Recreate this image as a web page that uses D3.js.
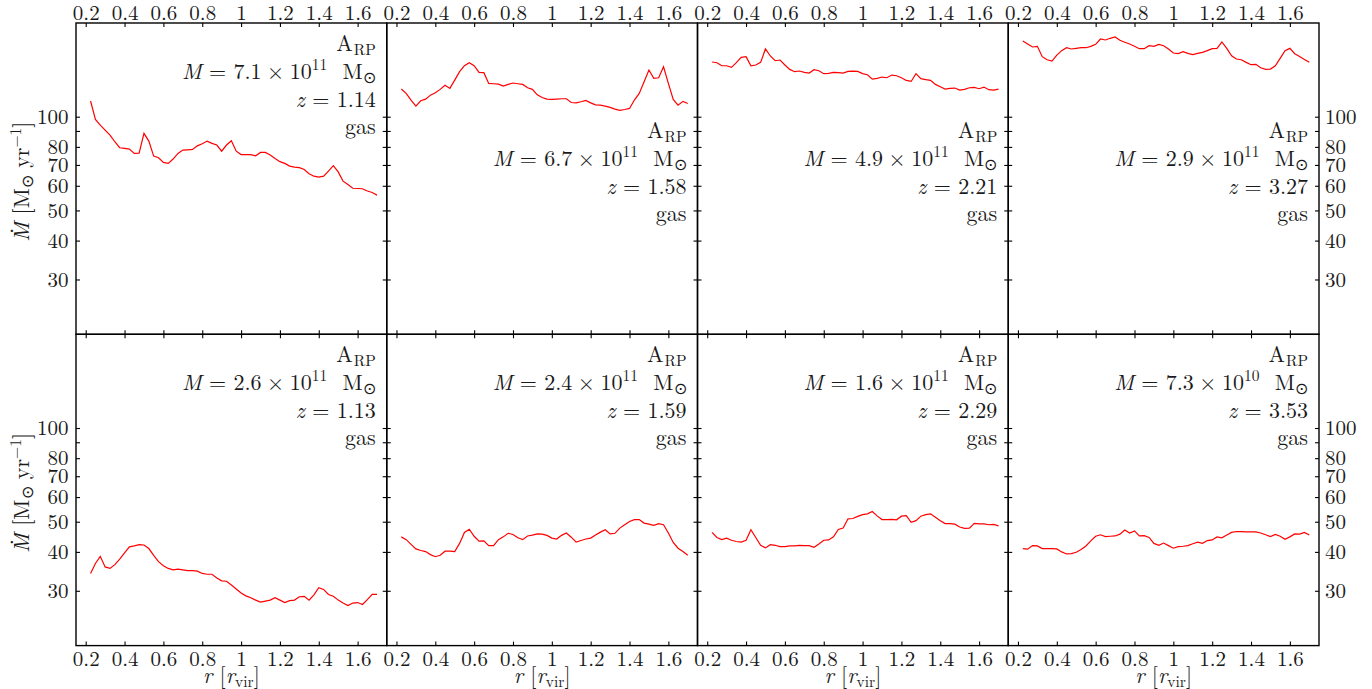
<!DOCTYPE html>
<html>
<head>
<meta charset="utf-8">
<script src="https://cdn.jsdelivr.net/npm/d3@7"></script>
<style>
  html, body { margin: 0; padding: 0; background: #fff; }
  svg { display: block; }
  text { font-family: "Latin Modern Roman", "CMU Serif", "Liberation Serif", serif; fill: #1a1a1a; }
</style>
</head>
<body>
<svg id="chart" width="1372" height="689"></svg>
<script>
// ---------------- data ----------------
const radius = [0.225,0.25,0.275,0.3,0.325,0.35,0.375,0.4,0.425,0.45,0.475,0.5,0.525,0.55,0.575,0.6,0.625,0.65,0.675,0.7,
  0.725,0.75,0.775,0.8,0.825,0.85,0.875,0.9,0.925,0.95,0.975,1.0,1.025,1.05,1.075,1.1,1.125,1.15,1.175,1.2,
  1.225,1.25,1.275,1.3,1.325,1.35,1.375,1.4,1.425,1.45,1.475,1.5,1.525,1.55,1.575,1.6,1.625,1.65,1.675,1.7];

const mdot1 = [112.3,98.0,94.0,90.6,87.3,83.1,79.5,79.1,78.7,76.2,76.4,88.4,83.5,74.7,73.8,71.3,70.8,73.1,76.2,78.1,
  78.3,78.5,80.6,81.9,83.5,82.1,81.1,77.5,81.1,83.7,77.5,75.6,75.6,75.5,74.9,76.8,76.8,75.3,73.4,71.7,
  70.8,69.4,68.9,68.6,67.7,65.6,64.4,64.0,64.4,66.9,69.6,66.5,62.1,60.6,58.9,58.8,58.7,57.7,57.1,56.0];
const mdot2 = [122.7,118.8,113.1,108.2,112.5,113.9,117.3,119.4,122.4,126.1,123.3,131.1,139.5,145.8,149.1,145.8,138.8,138.5,127.9,127.6,
  127.3,125.4,127.0,128.3,127.6,127.0,123.9,122.4,117.6,115.3,113.9,113.6,113.9,114.2,114.2,111.1,110.8,111.7,112.8,110.8,
  109.2,108.9,108.2,107.1,105.8,104.8,105.5,106.3,113.1,118.8,129.5,141.2,132.8,133.4,144.7,127.9,113.6,108.9,112.0,110.3];
const mdot3 = [149.9,149.1,145.8,145.8,144.0,149.1,155.1,155.9,145.8,146.6,149.5,165.1,156.7,151.3,152.1,146.6,141.9,139.5,140.2,138.8,
  138.1,141.6,140.5,137.5,137.8,138.8,138.5,138.1,139.8,140.2,139.8,137.5,136.4,132.1,132.8,134.1,133.4,136.1,135.4,133.4,
  130.8,129.8,137.5,132.5,131.6,130.8,127.0,124.8,122.7,123.3,123.6,121.8,122.4,123.9,124.2,123.0,124.5,122.1,121.8,122.7];
const mdot4 = [175.1,171.2,167.5,168.3,155.9,152.4,150.9,157.8,163.0,166.6,165.0,165.8,166.6,166.6,168.3,170.8,177.7,176.4,178.6,180.3,
  176.0,173.4,171.2,168.3,165.4,165.4,169.1,168.3,170.8,169.1,165.0,160.2,159.4,161.8,159.8,158.2,159.8,161.0,163.0,165.4,
  165.8,173.8,165.8,157.0,153.2,152.4,149.5,146.9,147.3,143.7,141.9,142.2,145.8,154.0,163.0,165.8,159.4,156.2,152.8,149.5];
const mdot5 = [34.1,36.7,38.7,35.8,35.4,36.4,37.9,39.7,41.5,41.8,42.2,42.1,41.0,39.0,37.2,36.1,35.4,35.0,35.2,35.0,
  34.8,34.8,34.7,34.1,33.9,33.9,33.0,32.3,32.2,31.3,30.4,29.5,28.9,28.5,28.0,27.6,27.8,28.0,28.5,28.0,
  27.5,27.9,28.0,28.7,28.8,28.0,29.1,30.7,30.3,29.2,28.8,28.0,27.4,26.9,27.4,27.5,27.1,28.1,29.2,29.2];
const mdot6 = [44.7,43.8,42.3,40.9,40.4,40.1,39.2,38.6,39.0,40.2,40.2,40.1,42.6,46.2,47.3,44.9,43.3,43.4,41.9,41.9,
  43.8,44.7,45.9,45.5,44.4,43.8,45.0,45.3,45.7,45.6,45.2,44.3,44.0,45.2,46.0,44.6,43.0,43.5,44.0,44.3,
  45.3,46.3,47.1,45.7,45.9,47.7,48.9,50.1,50.8,50.8,49.5,49.1,48.7,49.3,48.9,46.0,42.9,41.1,40.1,39.0];
const mdot7 = [46.2,44.5,43.8,44.3,43.6,43.2,43.0,43.6,47.1,44.5,42.0,41.2,42.2,42.0,41.6,41.6,41.8,41.8,42.0,41.9,
  41.9,41.4,42.4,43.6,43.7,44.7,47.2,47.7,51.1,51.2,52.0,52.7,53.0,53.9,52.2,50.8,50.8,50.9,50.7,52.1,
  52.3,49.8,50.4,52.1,52.7,53.0,51.7,50.4,49.3,49.3,49.1,48.1,47.6,47.7,49.4,49.2,49.2,48.9,49.0,48.5];
const mdot8 = [41.0,40.8,41.9,41.8,41.0,41.0,41.0,40.9,40.0,39.4,39.5,39.9,40.7,41.8,43.4,44.9,45.4,44.8,44.9,45.0,
  45.6,47.0,46.0,46.7,45.0,45.1,44.5,42.6,42.0,42.7,41.9,41.1,41.6,41.7,41.9,42.5,43.0,42.6,43.5,43.7,
  44.7,44.4,45.3,46.2,46.5,46.5,46.4,46.4,46.4,46.0,45.4,44.8,45.5,44.9,43.9,44.7,45.7,45.6,46.2,45.3];

const seriesList = [mdot1, mdot2, mdot3, mdot4, mdot5, mdot6, mdot7, mdot8];
const massMantissa = ["7.1","6.7","4.9","2.9","2.6","2.4","1.6","7.3"];
const massExponent = ["11","11","11","11","11","11","11","10"];
const redshifts = ["1.14","1.58","2.21","3.27","1.13","1.59","2.29","3.53"];
const componentLabel = "gas";
const simLabel = ["A", "RP"];

const xTicks = [0.2,0.4,0.6,0.8,1.0,1.2,1.4,1.6];
const xTickLabels = ["0.2","0.4","0.6","0.8","1","1.2","1.4","1.6"];
const yTicks = [30,40,50,60,70,80,90,100];
const yTickLabels = ["30","40","50","60","70","80","","100"];
const xDomain = [0.15, 1.75];
const yDomain = [20, 200];

// ---------------- layout ----------------
const plotLeft = 76, plotTop = 23;
const panelW = 310.75, panelH = 311.3;
const nCols = 4, nRows = 2;
const fsTick = 21, fs = 22, fsSmall = 15.5;
const ink = "#1a1a1a";
const fontStack = '"Latin Modern Roman", "CMU Serif", "Liberation Serif", serif';

const svg = d3.select("#chart");
const xScale = d3.scaleLinear().domain(xDomain).range([0, panelW]);
const yScale = d3.scaleLog().domain(yDomain).range([panelH, 0]);

const lineGen = d3.line().x(d => xScale(d[0])).y(d => yScale(d[1]));

function annotTop(i) {
  if (i === 0 || i >= 4) return 27.5;
  return 115;
}

seriesList.forEach((vals, i) => {
  const col = i % nCols, row = Math.floor(i / nCols);
  const g = svg.append("g").attr("transform", `translate(${plotLeft + col*panelW},${plotTop + row*panelH})`);

  const axTop = d3.axisTop(xScale).tickValues(xTicks).tickSize(-4).tickPadding(3.5)
    .tickFormat((d, k) => row === 0 ? xTickLabels[k] : "");
  const axBot = d3.axisBottom(xScale).tickValues(xTicks).tickSize(-4).tickPadding(5.5)
    .tickFormat((d, k) => row === nRows-1 ? xTickLabels[k] : "");
  const axLeft = d3.axisLeft(yScale).tickValues(yTicks).tickSize(-4).tickPadding(7.5)
    .tickFormat((d, k) => col === 0 ? yTickLabels[k] : "");
  const axRight = d3.axisRight(yScale).tickValues(yTicks).tickSize(-4).tickPadding(6)
    .tickFormat((d, k) => col === nCols-1 ? yTickLabels[k] : "");

  const styleAxis = sel => {
    sel.select(".domain").remove();
    sel.selectAll(".tick line").attr("stroke", "#000").attr("stroke-width", 1.1);
    sel.selectAll(".tick text").attr("fill", ink).style("font-size", fsTick + "px")
      .style("font-family", fontStack);
  };
  g.append("g").call(axTop).call(styleAxis);
  g.append("g").attr("transform", `translate(0,${panelH})`).call(axBot).call(styleAxis);
  g.append("g").call(axLeft).call(styleAxis);
  g.append("g").attr("transform", `translate(${panelW},0)`).call(axRight).call(styleAxis);

  g.append("path")
    .datum(radius.map((r, k) => [r, vals[k]]))
    .attr("fill", "none")
    .attr("stroke", "#ff0000")
    .attr("stroke-width", 1.2)
    .attr("d", lineGen);

  g.append("rect").attr("x", 0).attr("y", 0).attr("width", panelW).attr("height", panelH)
    .attr("fill", "none").attr("stroke", "#000").attr("stroke-width", 1.4);

  const ax = panelW - 11;
  const b0 = annotTop(i);
  const lh = 28;
  const t1 = g.append("text").attr("x", ax).attr("y", b0).attr("text-anchor", "end").style("font-size", fs + "px");
  t1.append("tspan").text(simLabel[0]);
  t1.append("tspan").attr("dy", 4).attr("dx", 1).style("font-size", fsSmall + "px").text(simLabel[1]);

  const t2 = g.append("text").attr("x", ax).attr("y", b0 + lh).attr("text-anchor", "end").style("font-size", fs + "px");
  t2.append("tspan").style("font-style", "italic").text("M");
  t2.append("tspan").text("\u2004=\u2004" + massMantissa[i] + "\u2005×\u200510");
  t2.append("tspan").attr("dy", -9).style("font-size", fsSmall + "px").text(massExponent[i]);
  t2.append("tspan").attr("dy", 9).text("\u2002\u2009M");
  t2.append("tspan").attr("dy", 4).style("font-size", fsSmall + "px").text("\u2299");

  const t3 = g.append("text").attr("x", ax).attr("y", b0 + 2*lh).attr("text-anchor", "end").style("font-size", fs + "px");
  t3.append("tspan").style("font-style", "italic").text("z");
  t3.append("tspan").text("\u2004=\u2004" + redshifts[i]);

  g.append("text").attr("x", ax).attr("y", b0 + 3*lh - 1).attr("text-anchor", "end").style("font-size", fs + "px")
    .text(componentLabel);

  if (col === 0) {
    const yl = svg.append("text")
      .attr("transform", `translate(${plotLeft - 47},${plotTop + row*panelH + panelH/2 + 3}) rotate(-90)`)
      .attr("text-anchor", "middle").style("font-size", fs + "px");
    yl.append("tspan").style("font-style", "italic").text("M");
    yl.append("tspan").attr("dx", -12).attr("dy", -16).text(".");
    yl.append("tspan").attr("dx", 6).attr("dy", 16).text(" [M");
    yl.append("tspan").attr("dy", 4).style("font-size", fsSmall + "px").text("\u2299");
    yl.append("tspan").attr("dy", -4).text(" yr");
    yl.append("tspan").attr("dy", -8).style("font-size", fsSmall + "px").text("\u22121");
    yl.append("tspan").attr("dy", 8).text("]");
  }
  if (row === nRows - 1) {
    const xl = svg.append("text")
      .attr("x", plotLeft + col*panelW + panelW/2).attr("y", plotTop + nRows*panelH + 37)
      .attr("text-anchor", "middle").style("font-size", fs + "px");
    xl.append("tspan").style("font-style", "italic").text("r");
    xl.append("tspan").text(" [");
    xl.append("tspan").style("font-style", "italic").text("r");
    xl.append("tspan").attr("dy", 4).style("font-size", fsSmall + "px").text("vir");
    xl.append("tspan").attr("dy", -4).text("]");
  }
});
</script>
</body>
</html>
